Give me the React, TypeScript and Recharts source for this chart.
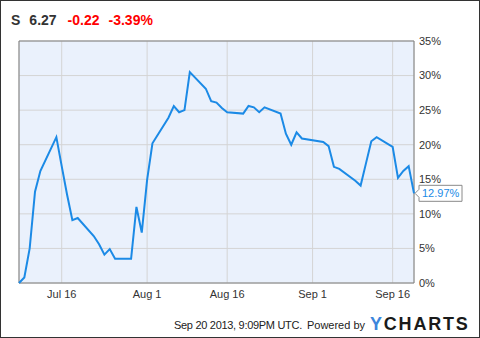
import React from "react";
import {
  LineChart,
  Line,
  XAxis,
  YAxis,
  CartesianGrid,
  ReferenceArea,
  ReferenceDot,
} from "recharts";

const baseDate = "2013-07-08";
const endDate = "2013-09-20";

const dates = [
  "2013-07-08", "2013-07-09", "2013-07-10", "2013-07-11", "2013-07-12",
  "2013-07-15", "2013-07-16", "2013-07-17", "2013-07-18", "2013-07-19",
  "2013-07-22", "2013-07-23", "2013-07-24", "2013-07-25", "2013-07-26",
  "2013-07-29", "2013-07-30", "2013-07-31", "2013-08-01", "2013-08-02",
  "2013-08-05", "2013-08-06", "2013-08-07", "2013-08-08", "2013-08-09",
  "2013-08-12", "2013-08-13", "2013-08-14", "2013-08-15", "2013-08-16",
  "2013-08-19", "2013-08-20", "2013-08-21", "2013-08-22", "2013-08-23",
  "2013-08-26", "2013-08-27", "2013-08-28", "2013-08-29", "2013-08-30",
  "2013-09-03", "2013-09-04", "2013-09-05", "2013-09-06",
  "2013-09-09", "2013-09-10", "2013-09-11", "2013-09-12", "2013-09-13",
  "2013-09-16", "2013-09-17", "2013-09-18", "2013-09-19", "2013-09-20",
];

const changePct = [
  0, 0.8, 5.0, 13.2, 16.2,
  21.1, 16.9, 12.8, 9.1, 9.4,
  6.8, 5.6, 4.1, 4.9, 3.5,
  3.5, 11.0, 7.3, 14.9, 20.2,
  23.9, 25.6, 24.7, 25.0, 30.5,
  28.1, 26.3, 26.1, 25.3, 24.7,
  24.5, 25.6, 25.4, 24.7, 25.4,
  24.5, 21.6, 20.0, 21.8, 20.9,
  20.4, 19.8, 16.8, 16.5,
  14.8, 14.1, 17.3, 20.5, 21.1,
  19.7, 15.2, 16.2, 16.9, 12.97,
];

const tickDates = ["2013-07-16", "2013-08-01", "2013-08-16", "2013-09-01", "2013-09-16"];
const tickLabels = ["Jul 16", "Aug 1", "Aug 16", "Sep 1", "Sep 16"];
const yTicks = [0, 5, 10, 15, 20, 25, 30, 35];

const ticker = "S";
const price = "6.27";
const change = "-0.22";
const changePctText = "-3.39%";
const footerText = "Sep 20 2013, 9:09PM UTC.";
const poweredText = "Powered by";

const DAY = 86400000;
const dayOffset = (d: string) => Math.round((Date.parse(d) - Date.parse(baseDate)) / DAY);

const data = dates.map((d, i) => ({ t: dayOffset(d), v: changePct[i] }));
const xTicks = tickDates.map(dayOffset);
const xLabelMap: Record<number, string> = {};
xTicks.forEach((t, i) => (xLabelMap[t] = tickLabels[i]));

const FONT = "'Liberation Sans', Arial, Helvetica, sans-serif";
const LINE = "#1b8ae6";

const lastPoint = data[data.length - 1];

const EndLabel = (props: any) => {
  const { cx, cy } = props;
  const x0 = cx + 1;
  const bx = cx + 5;
  const bw = 43;
  const bh = 16;
  const path = `M${x0},${cy} L${bx},${cy - 4} L${bx},${cy - bh / 2} L${bx + bw},${cy - bh / 2} L${bx + bw},${cy + bh / 2} L${bx},${cy + bh / 2} L${bx},${cy + 4} Z`;
  return (
    <g>
      <path d={path} fill="#ffffff" stroke="#8a8a8a" strokeWidth={1} />
      <text x={bx + 3} y={cy + 4} fill={LINE} fontSize={11} fontFamily={FONT}>
        {lastPoint.v.toFixed(2) + "%"}
      </text>
    </g>
  );
};

export default function App() {
  return (
    <div
      style={{
        position: "absolute",
        left: 0,
        top: 0,
        width: 480,
        height: 338,
        boxSizing: "border-box",
        border: "1px solid #333",
        background: "#fff",
        fontFamily: FONT,
        overflow: "hidden",
      }}
    >
      <div
        style={{
          position: "absolute",
          left: 10,
          top: 11,
          fontSize: 14,
          fontWeight: "bold",
          whiteSpace: "pre",
          lineHeight: "16px",
        }}
      >
        <span style={{ color: "#333" }}>{ticker}</span>
        <span style={{ color: "#333", marginLeft: 9 }}>{price}</span>
        <span style={{ color: "#ff0000", marginLeft: 11 }}>{change}</span>
        <span style={{ color: "#ff0000", marginLeft: 9 }}>{changePctText}</span>
      </div>
      <div style={{ position: "absolute", left: -1, top: -1 }}>
        <LineChart
          width={480}
          height={338}
          data={data}
          margin={{ top: 41, right: 16, bottom: 25, left: 19 }}
        >
          <CartesianGrid fill="#eaf1fc" stroke="#d4d4d4" strokeWidth={1} />
          <XAxis
            dataKey="t"
            type="number"
            domain={[0, dayOffset(endDate)]}
            ticks={xTicks}
            tickFormatter={(t: number) => xLabelMap[t] || ""}
            axisLine={false}
            tickLine={false}
            tickSize={0}
            tickMargin={7}
            height={30}
            tick={{ fill: "#333", fontSize: 11, fontFamily: FONT }}
          />
          <YAxis
            orientation="right"
            type="number"
            domain={[0, 35]}
            ticks={yTicks}
            tickFormatter={(v: number) => v + "%"}
            axisLine={false}
            tickLine={false}
            tickSize={0}
            tickMargin={5}
            width={50}
            tick={{ fill: "#333", fontSize: 11, fontFamily: FONT, textAnchor: "start" }}
          />
          <ReferenceArea
            x1={0}
            x2={dayOffset(endDate)}
            y1={0}
            y2={35}
            fill="none"
            stroke="#808080"
            strokeWidth={1}
            ifOverflow="visible"
          />
          <Line
            type="linear"
            dataKey="v"
            stroke={LINE}
            strokeWidth={2}
            dot={false}
            isAnimationActive={false}
          />
          <ReferenceDot
            x={lastPoint.t}
            y={lastPoint.v}
            r={0}
            ifOverflow="visible"
            shape={EndLabel}
          />
        </LineChart>
      </div>
      <div
        style={{
          position: "absolute",
          left: 173,
          top: 318,
          fontSize: 11,
          color: "#222",
          whiteSpace: "nowrap",
          lineHeight: "13px",
        }}
      >
        <span style={{ letterSpacing: -0.3 }}>{footerText}</span>
        <span style={{ marginLeft: 5 }}>{poweredText}</span>
      </div>
      <div
        style={{
          position: "absolute",
          left: 369,
          top: 314,
          fontSize: 18,
          fontWeight: "bold",
          lineHeight: "19px",
          letterSpacing: 1.8,
          whiteSpace: "nowrap",
        }}
      >
        <span style={{ color: "#3d86dc" }}>Y</span>
        <span style={{ color: "#1a1a1a" }}>CHARTS</span>
      </div>
    </div>
  );
}
